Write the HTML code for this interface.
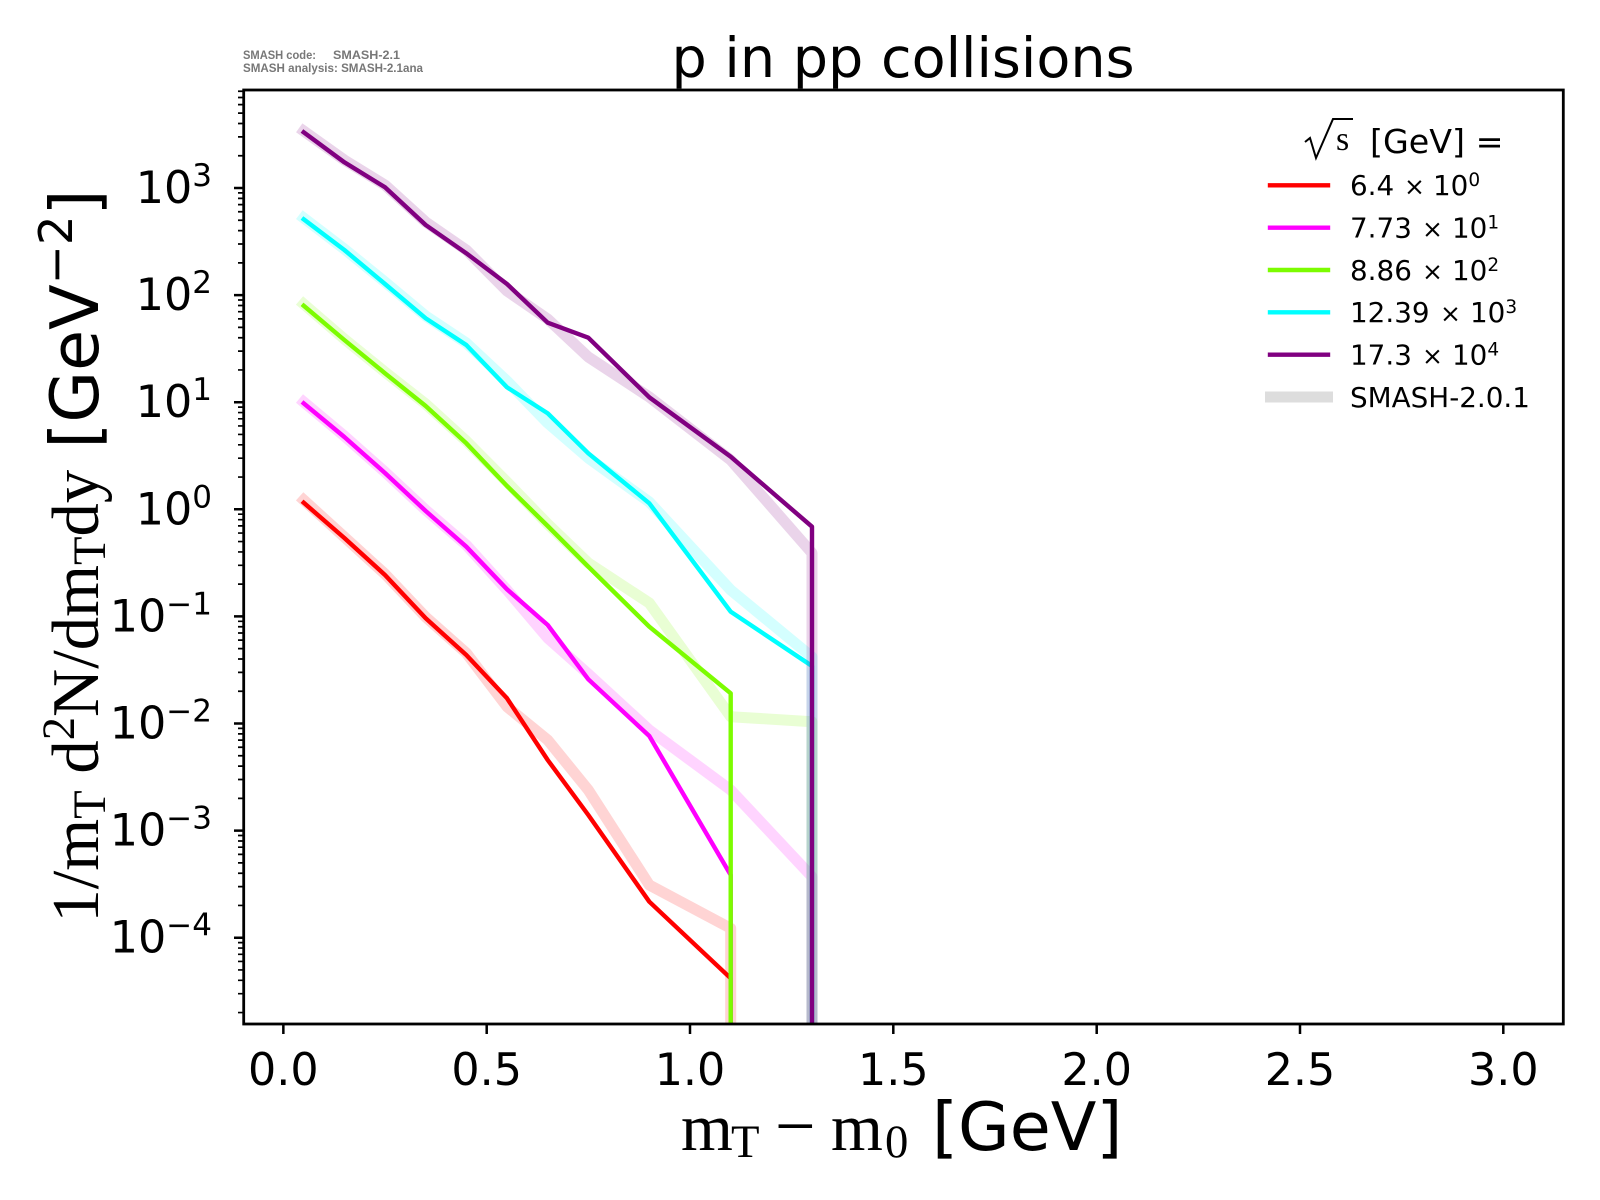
<!DOCTYPE html>
<html>
<head>
<meta charset="utf-8">
<style>
  html, body { margin: 0; padding: 0; background: #ffffff; }
  svg { display: block; }
  text { white-space: pre; }
</style>
</head>
<body>
<svg width="1600" height="1200" viewBox="0 0 1600 1200" xmlns="http://www.w3.org/2000/svg">
  <rect x="0" y="0" width="1600" height="1200" fill="#ffffff"/>
  <defs>
    <clipPath id="ax">
      <rect x="243.7" y="90" width="1319.6" height="934"/>
    </clipPath>
  </defs>

  <!-- SMASH version text -->
  <text x="243" y="59" font-family="Liberation Sans, sans-serif" font-size="11.5" font-weight="bold" fill="#777777" textLength="73" lengthAdjust="spacingAndGlyphs">SMASH code:</text>
  <text x="333" y="59" font-family="Liberation Sans, sans-serif" font-size="11.5" font-weight="bold" fill="#777777" textLength="67" lengthAdjust="spacingAndGlyphs">SMASH-2.1</text>
  <text x="243" y="72" font-family="Liberation Sans, sans-serif" font-size="11.5" font-weight="bold" fill="#777777" textLength="180" lengthAdjust="spacingAndGlyphs">SMASH analysis: SMASH-2.1ana</text>

  <!-- Title -->
  <text x="903" y="77" text-anchor="middle" font-family="DejaVu Sans, Liberation Sans, sans-serif" font-size="55.6" fill="#000">p in pp collisions</text>

  <!-- Series -->
  <g clip-path="url(#ax)" fill="none" stroke-linejoin="round" stroke-linecap="square">
    <!-- red -->
    <polyline stroke="#ff0000" stroke-opacity="0.17" stroke-width="11" points="303.7,500 344.35,537 385,574 425.7,617 466.3,653 507,706.7 547.7,740 588.3,790 649.3,885 730.7,928.3 730.7,1045"/>
    <polyline stroke="#ff0000" stroke-width="4.4" points="303.7,502.7 344.35,538 385,575 425.7,618.3 466.3,655 507,698.3 547.7,760 588.3,815 649.3,901.7 730.7,978.3 730.7,1045"/>
    <!-- magenta -->
    <polyline stroke="#ff00ff" stroke-opacity="0.17" stroke-width="11" points="303.7,402 344.35,436 385,472 425.7,510 466.3,545 507,590 547.7,638 588.3,674 649.3,730 730.7,790 812,876.7 812,1045"/>
    <polyline stroke="#ff00ff" stroke-width="4.4" points="303.7,403.3 344.35,437 385,473 425.7,511 466.3,546.7 507,589.3 547.7,625 588.3,679.3 649.3,736 730.7,875 730.7,1045"/>
    <!-- green -->
    <polyline stroke="#7cfc00" stroke-opacity="0.17" stroke-width="11" points="303.7,304 344.35,339 385,372 425.7,404 466.3,441 507,482 547.7,524 588.3,563 649.3,603 730.7,716.7 812,721.7 812,1045"/>
    <polyline stroke="#7cfc00" stroke-width="4.4" points="303.7,305.7 344.35,340 385,373.3 425.7,406 466.3,443.3 507,486 547.7,526 588.3,566.7 649.3,626.7 730.7,693.3 730.7,1045"/>
    <!-- cyan -->
    <polyline stroke="#00ffff" stroke-opacity="0.17" stroke-width="11" points="303.7,218 344.35,249 385,282 425.7,316 466.3,343 507,381 547.7,423 588.3,458 649.3,502 730.7,590 812,657 812,1045"/>
    <polyline stroke="#00ffff" stroke-width="4.4" points="303.7,219.3 344.35,250 385,284 425.7,318.3 466.3,345 507,387.3 547.7,413.3 588.3,453.3 649.3,503.3 730.7,611.7 812,666 812,1045"/>
    <!-- purple -->
    <polyline stroke="#800080" stroke-opacity="0.17" stroke-width="11" points="303.7,131 344.35,160 385,185 425.7,222 466.3,250 507,291 547.7,319 588.3,357 649.3,397 730.7,460 812,553 812,1045"/>
    <polyline stroke="#800080" stroke-width="4.4" points="303.7,132.3 344.35,162.3 385,187.3 425.7,225 466.3,253.3 507,284 547.7,322.7 588.3,337.7 649.3,397.3 730.7,456.7 812,526.7 812,1045"/>
  </g>

  <!-- Axes frame -->
  <rect x="243.7" y="90" width="1319.6" height="934" fill="none" stroke="#000" stroke-width="2.8"/>

  <!-- X ticks -->
  <path d="M283.35 1024 V1034 M486.7 1024 V1034 M690 1024 V1034 M893.3 1024 V1034 M1096.7 1024 V1034 M1300 1024 V1034 M1503.3 1024 V1034" stroke="#000" stroke-width="2.5"/>
  <g font-family="DejaVu Sans, Liberation Sans, sans-serif" font-size="44.4" fill="#000" text-anchor="middle">
    <text x="283.35" y="1085">0.0</text>
    <text x="486.7" y="1085">0.5</text>
    <text x="690" y="1085">1.0</text>
    <text x="893.3" y="1085">1.5</text>
    <text x="1096.7" y="1085">2.0</text>
    <text x="1300" y="1085">2.5</text>
    <text x="1503.3" y="1085">3.0</text>
  </g>

  <!-- Y major ticks -->
  <path d="M234 188 H243.7 M234 295.1 H243.7 M234 402.2 H243.7 M234 509.3 H243.7 M234 616.4 H243.7 M234 723.5 H243.7 M234 830.6 H243.7 M234 937.7 H243.7" stroke="#000" stroke-width="2.5"/>
  <!-- Y minor ticks -->
  <path stroke="#000" stroke-width="1.7" d="
M238 155.76 H243.7 M238 136.9 H243.7 M238 123.52 H243.7 M238 113.14 H243.7 M238 104.66 H243.7 M238 97.49 H243.7 M238 91.28 H243.7
M238 262.86 H243.7 M238 244.0 H243.7 M238 230.62 H243.7 M238 220.24 H243.7 M238 211.76 H243.7 M238 204.59 H243.7 M238 198.38 H243.7 M238 192.9 H243.7
M238 369.96 H243.7 M238 351.1 H243.7 M238 337.72 H243.7 M238 327.34 H243.7 M238 318.86 H243.7 M238 311.69 H243.7 M238 305.48 H243.7 M238 300.0 H243.7
M238 477.06 H243.7 M238 458.2 H243.7 M238 444.82 H243.7 M238 434.44 H243.7 M238 425.96 H243.7 M238 418.79 H243.7 M238 412.58 H243.7 M238 407.1 H243.7
M238 584.16 H243.7 M238 565.3 H243.7 M238 551.92 H243.7 M238 541.54 H243.7 M238 533.06 H243.7 M238 525.89 H243.7 M238 519.68 H243.7 M238 514.2 H243.7
M238 691.26 H243.7 M238 672.4 H243.7 M238 659.02 H243.7 M238 648.64 H243.7 M238 640.16 H243.7 M238 632.99 H243.7 M238 626.78 H243.7 M238 621.3 H243.7
M238 798.36 H243.7 M238 779.5 H243.7 M238 766.12 H243.7 M238 755.74 H243.7 M238 747.26 H243.7 M238 740.09 H243.7 M238 733.88 H243.7 M238 728.4 H243.7
M238 905.46 H243.7 M238 886.6 H243.7 M238 873.22 H243.7 M238 862.84 H243.7 M238 854.36 H243.7 M238 847.19 H243.7 M238 840.98 H243.7 M238 835.5 H243.7
M238 1012.56 H243.7 M238 993.7 H243.7 M238 980.32 H243.7 M238 969.94 H243.7 M238 961.46 H243.7 M238 954.29 H243.7 M238 948.08 H243.7 M238 942.6 H243.7"/>

  <!-- Y tick labels -->
  <g font-family="DejaVu Sans, Liberation Sans, sans-serif" font-size="44.4" fill="#000" text-anchor="end">
    <text x="212" y="203">10<tspan font-size="31" dy="-17">3</tspan></text>
    <text x="212" y="310.1">10<tspan font-size="31" dy="-17">2</tspan></text>
    <text x="212" y="417.2">10<tspan font-size="31" dy="-17">1</tspan></text>
    <text x="212" y="524.3">10<tspan font-size="31" dy="-17">0</tspan></text>
    <text x="212" y="631.4">10<tspan font-size="31" dy="-17">−1</tspan></text>
    <text x="212" y="738.5">10<tspan font-size="31" dy="-17">−2</tspan></text>
    <text x="212" y="845.6">10<tspan font-size="31" dy="-17">−3</tspan></text>
    <text x="212" y="952.7">10<tspan font-size="31" dy="-17">−4</tspan></text>
  </g>

  <!-- X label -->
  <g fill="#000">
    <text x="681" y="1150" font-family="Liberation Serif, serif" font-size="66.7">m</text>
    <text x="731" y="1157" font-family="Liberation Serif, serif" font-size="46.7">T</text>
    <text x="775" y="1150" font-family="Liberation Serif, serif" font-size="72">−</text>
    <text x="831" y="1150" font-family="Liberation Serif, serif" font-size="66.7">m</text>
    <text x="885" y="1157" font-family="Liberation Serif, serif" font-size="46.7">0</text>
    <text x="932" y="1150" font-family="DejaVu Sans, Liberation Sans, sans-serif" font-size="66.7">[GeV]</text>
  </g>

  <!-- Y label -->
  <g transform="translate(98,556) rotate(-90)" fill="#000">
    <text x="0" y="0" text-anchor="middle" font-family="Liberation Serif, serif" font-size="66.7"><tspan>1/m</tspan><tspan font-size="46.7" dy="7">T</tspan><tspan dy="-7"> d</tspan><tspan font-size="46.7" dy="-24">2</tspan><tspan dy="24">N/dm</tspan><tspan font-size="46.7" dy="7">T</tspan><tspan dy="-7">dy</tspan><tspan font-family="DejaVu Sans, Liberation Sans, sans-serif"> [GeV</tspan><tspan font-family="DejaVu Sans, Liberation Sans, sans-serif" font-size="46.7" dy="-26">−2</tspan><tspan font-family="DejaVu Sans, Liberation Sans, sans-serif" dy="26">]</tspan></text>
  </g>

  <!-- Legend -->
  <g>
    <path d="M1305 142 L1310 138 L1316 158 L1333 119 L1353 119" fill="none" stroke="#000" stroke-width="2"/>
    <text x="1336" y="150" font-family="Liberation Serif, serif" font-size="34" fill="#000">s</text>
    <text x="1370" y="153" font-family="DejaVu Sans, Liberation Sans, sans-serif" font-size="33.3" fill="#000">[GeV] =</text>

    <g stroke-linecap="square" stroke-width="4.4">
      <line x1="1270" y1="185.3" x2="1328" y2="185.3" stroke="#ff0000"/>
      <line x1="1270" y1="227.7" x2="1328" y2="227.7" stroke="#ff00ff"/>
      <line x1="1270" y1="270" x2="1328" y2="270" stroke="#7cfc00"/>
      <line x1="1270" y1="312.3" x2="1328" y2="312.3" stroke="#00ffff"/>
      <line x1="1270" y1="354.7" x2="1328" y2="354.7" stroke="#800080"/>
    </g>
    <line x1="1265" y1="397" x2="1333" y2="397" stroke="#dddddd" stroke-width="11"/>

    <g font-family="DejaVu Sans, Liberation Sans, sans-serif" font-size="27.8" fill="#000">
      <text x="1350" y="195">6.4</text>
      <text x="1414.5" y="195" font-size="25" text-anchor="middle">×</text>
      <text x="1433" y="195">10</text>
      <text x="1468.4" y="186" font-size="18.5">0</text>

      <text x="1350" y="237.4">7.73</text>
      <text x="1432.5" y="237.4" font-size="25" text-anchor="middle">×</text>
      <text x="1452" y="237.4">10</text>
      <text x="1487.4" y="228.4" font-size="18.5">1</text>

      <text x="1350" y="279.8">8.86</text>
      <text x="1432.5" y="279.8" font-size="25" text-anchor="middle">×</text>
      <text x="1452" y="279.8">10</text>
      <text x="1487.4" y="270.8" font-size="18.5">2</text>

      <text x="1350" y="322.2">12.39</text>
      <text x="1450.5" y="322.2" font-size="25" text-anchor="middle">×</text>
      <text x="1470" y="322.2">10</text>
      <text x="1505.4" y="313.2" font-size="18.5">3</text>

      <text x="1350" y="364.6">17.3</text>
      <text x="1432.5" y="364.6" font-size="25" text-anchor="middle">×</text>
      <text x="1452" y="364.6">10</text>
      <text x="1487.4" y="355.6" font-size="18.5">4</text>

      <text x="1350" y="406.8">SMASH-2.0.1</text>
    </g>
  </g>
</svg>
</body>
</html>
